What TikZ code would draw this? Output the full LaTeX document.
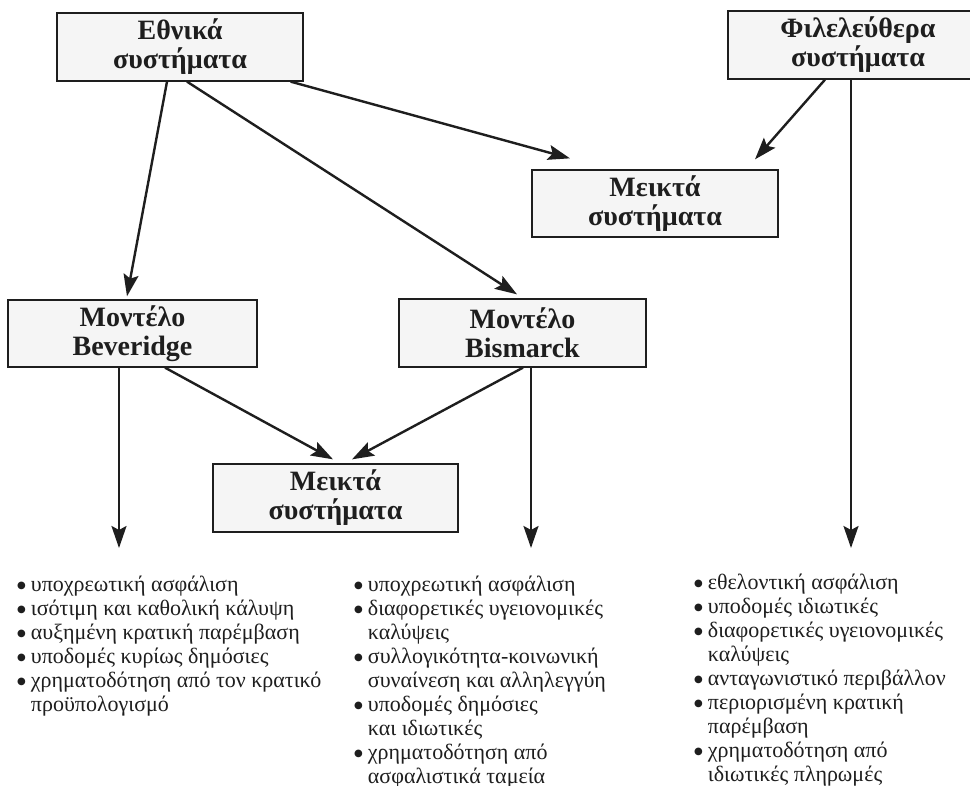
\documentclass[tikz,border=0pt]{standalone}
\usepackage{fontspec}
\setmainfont{Liberation Serif}
\newfontfamily\symf{DejaVu Sans}
\usetikzlibrary{arrows.meta}
\definecolor{boxfill}{HTML}{F5F5F5}
\definecolor{ink}{HTML}{1E1E1E}
\newcommand\bul{\raisebox{3pt}{\symf\fontsize{10}{10}\selectfont ●}\hspace{5pt}}
\newcommand\ind{\phantom{\bul}}
\tikzset{
  titlebox/.style={draw=ink, line width=1.3pt, fill=boxfill, inner sep=0pt,
    minimum width=246pt, minimum height=68pt, align=center,
    font=\fontsize{28}{29}\selectfont\bfseries, text=ink},
  arr/.style={draw=ink, line width=2.4pt, -{Stealth[length=22pt,width=15pt,inset=4pt]}},
  listtxt/.style={anchor=north west, inner sep=0pt, align=left, text=ink,
    font=\fontsize{22}{24}\selectfont}
}
\begin{document}
\begin{tikzpicture}[x=1pt,y=-1pt]
\useasboundingbox (0,0) rectangle (970,786);
\clip (0,0) rectangle (970,786);
\fill[white] (0,0) rectangle (970,786);
% boxes
\node[titlebox] (eth) at (180,47) {Εθνικά\\συστήματα};
\node[titlebox, minimum width=260pt] (phil) at (858,45) {Φιλελεύθερα\\συστήματα};
\node[titlebox, minimum height=67pt] (mix1) at (655,203.5) {Μεικτά\\συστήματα};
\node[titlebox, minimum width=249pt, minimum height=67pt] (bev) at (132.5,333.5) {Μοντέλο\\Beveridge};
\node[titlebox, minimum width=247pt] (bism) at (522.5,333) {Μοντέλο\\Bismarck};
\node[titlebox, minimum width=245pt] (mix2) at (335.5,498) {Μεικτά\\συστήματα};
% free ends
\coordinate (bdown) at (119,548);
\coordinate (mdown) at (531,548);
\coordinate (pdown) at (851,548);
% connectors
\draw[arr] ([xshift=-13pt]eth.south) -- ([xshift=-5.5pt,yshift=3pt]bev.north);
\draw[arr] ([xshift=7pt]eth.south) -- ([xshift=-5.5pt,yshift=4pt]bism.north);
\draw[arr] ([xshift=-13pt]eth.south east) -- ([xshift=-85pt,yshift=11pt]mix1.north);
\draw[arr] ([xshift=-33pt]phil.south) -- ([xshift=100pt,yshift=10pt]mix1.north);
\draw[arr] ([xshift=-7pt]phil.south) -- (pdown);
\draw[arr] ([xshift=-13.5pt]bev.south) -- (bdown);
\draw[arr] ([xshift=32.5pt]bev.south) -- ([xshift=-2.5pt,yshift=4pt]mix2.north);
\draw[arr] ([xshift=0.5pt]bism.south) -- ([xshift=16.5pt,yshift=4pt]mix2.north);
\draw[arr] ([xshift=8.5pt]bism.south) -- (mdown);
% lists
\node[listtxt] (l1) at (17,574) {\strut\bul υποχρεωτική ασφάλιση\\
\bul ισότιμη και καθολική κάλυψη\\
\bul αυξημένη κρατική παρέμβαση\\
\bul υποδομές κυρίως δημόσιες\\
\bul χρηματοδότηση από τον κρατικό\\
\ind προϋπολογισμό};
\node[listtxt] (l2) at (354,574) {\strut\bul υποχρεωτική ασφάλιση\\
\bul διαφορετικές υγειονομικές\\
\ind καλύψεις\\
\bul συλλογικότητα-κοινωνική\\
\ind συναίνεση και αλληλεγγύη\\
\bul υποδομές δημόσιες\\
\ind και ιδιωτικές\\
\bul χρηματοδότηση από\\
\ind ασφαλιστικά ταμεία};
\node[listtxt] (l3) at (694,572) {\strut\bul εθελοντική ασφάλιση\\
\bul υποδομές ιδιωτικές\\
\bul διαφορετικές υγειονομικές\\
\ind καλύψεις\\
\bul ανταγωνιστικό περιβάλλον\\
\bul περιορισμένη κρατική\\
\ind παρέμβαση\\
\bul χρηματοδότηση από\\
\ind ιδιωτικές πληρωμές};
\end{tikzpicture}
\end{document}
